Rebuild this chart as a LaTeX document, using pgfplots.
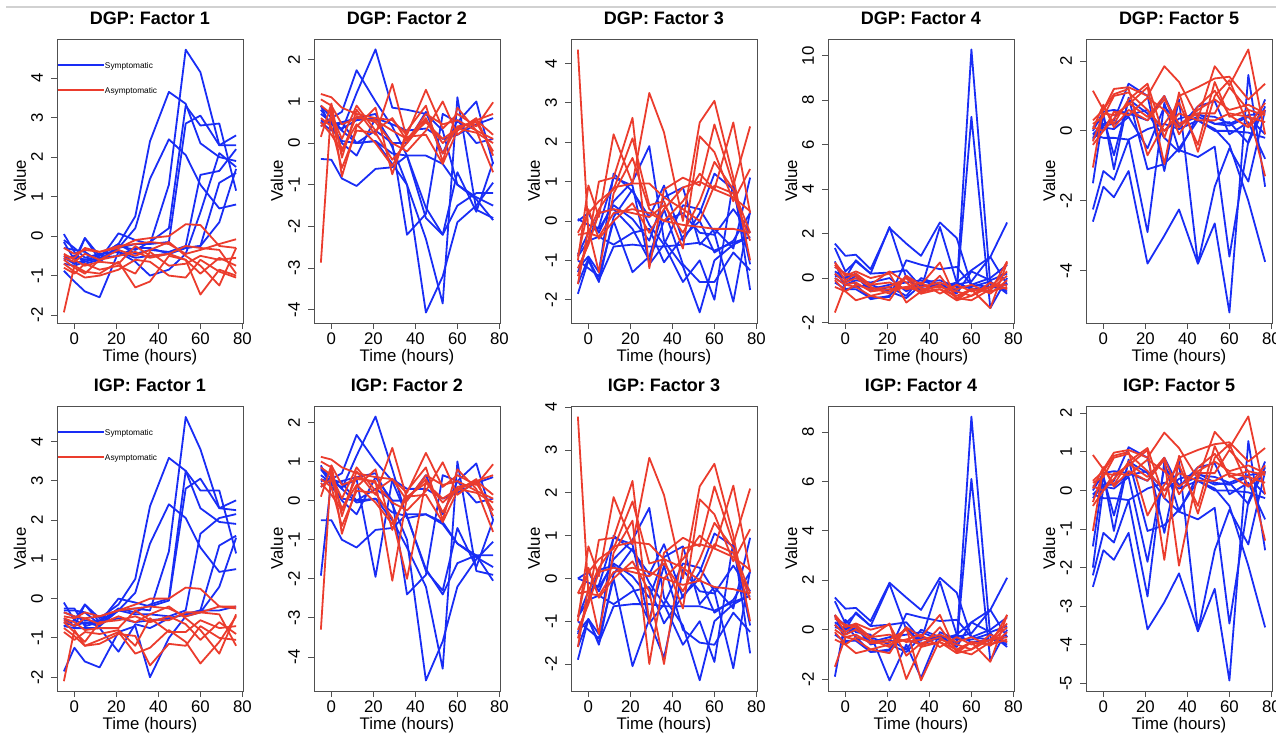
\documentclass[border=0pt]{standalone}
\usepackage{fontspec}
\setmainfont{Liberation Sans}
\usepackage{pgfplots}
\usepackage{pgfplotstable}
\pgfplotsset{compat=1.18}
\definecolor{symp}{RGB}{25,45,245}
\definecolor{asym}{RGB}{235,60,45}
\definecolor{frame}{RGB}{80,80,80}

% each row = one subject; transposed below
\pgfplotstableread{
id c1 c2 c3 c4 c5 c6 c7 c8 c9 c10 c11 c12
t -5 0 5 12 21 29 36 45 53 60 69 77
b1 -0.5 -0.7 -0.6 -0.6 -0.3 -0.2 -0.2 1.3 4.72 4.15 2.3 2.3
b2 -0.15 -0.6 -0.05 -0.5 -0.2 0.5 2.4 3.65 3.35 2.35 2.0 1.9
b3 -0.3 -0.35 -0.4 -0.65 -0.3 0.2 1.45 2.45 2.05 1.3 0.7 0.8
b4 0.05 -0.4 -0.7 -0.6 0.07 -0.1 -0.2 -0.15 2.85 3.05 2.3 2.55
b5 -0.55 -0.7 -0.05 -0.6 -0.25 -0.35 -0.15 0.2 3.3 2.8 2.85 1.15
b6 -0.6 -0.5 -0.6 -0.5 -0.2 -0.45 -0.35 -0.4 -0.25 1.55 1.65 2.2
b7 -0.1 -0.3 -0.55 -0.45 -0.4 -0.55 -0.5 -0.45 -0.3 -0.25 1.35 1.6
b8 -0.88 -1.15 -1.4 -1.55 -0.4 -0.65 -1.0 -0.85 -0.45 0.6 2.1 1.75
b9 -0.7 -0.75 -0.65 -0.55 -0.5 -0.3 -0.3 -0.45 -0.3 -0.25 0.35 1.7
r1 -1.93 -0.75 -0.9 -0.95 -0.65 -1.3 -1.15 -0.5 -0.6 -0.95 -0.55 -0.75
r2 -0.3 -0.45 -0.35 -0.4 -0.3 -0.1 -0.05 0.0 0.3 0.28 -0.25 -0.3
r3 -0.5 -0.55 -0.3 -0.4 -0.25 -0.2 -0.15 -0.2 -0.45 -0.35 -0.2 -0.08
r4 -0.6 -0.8 -0.95 -0.6 -0.5 -0.4 -0.55 -0.45 -0.6 -1.48 -0.85 -1.0
r5 -0.7 -0.9 -1.05 -1.0 -0.85 -0.6 -0.65 -1.0 -1.05 -0.6 -0.9 -1.05
r6 -0.55 -0.65 -0.45 -0.6 -0.35 -0.5 -0.35 -0.15 -0.5 -0.75 -1.25 -0.3
r7 -0.8 -0.95 -0.7 -0.85 -0.75 -0.95 -0.4 -0.75 -0.7 -0.5 -0.6 -0.55
r8 -0.45 -0.6 -0.75 -0.65 -0.7 -0.25 -0.5 -0.45 -0.25 -0.3 -0.35 -0.95
}\rawDA

\pgfplotstableread{
id c1 c2 c3 c4 c5 c6 c7 c8 c9 c10 c11 c12
t -5 0 5 12 21 29 36 45 53 60 69 77
b1 0.5 0.55 0.3 1.2 2.25 0.85 0.8 0.7 0.3 -1.0 -1.3 -1.5
b2 0.9 0.6 0.75 1.75 1.0 0.4 -0.3 -1.55 -2.2 -1.5 -1.2 -1.2
b3 -0.38 -0.4 -0.85 -1.03 -0.62 -0.58 -0.3 -0.3 -0.5 -1.0 -1.35 -1.85
b4 0.8 0.45 0.5 0.6 0.7 -0.1 -1.0 -4.07 -3.2 -1.9 -1.5 -0.95
b5 0.4 0.6 0.3 0.0 0.05 -0.5 -1.0 -2.3 -3.85 1.1 -1.6 -1.8
b6 0.7 0.5 0.0 -0.3 0.6 0.0 -2.2 -1.7 0.7 0.5 1.0 -0.5
b7 0.5 0.3 0.5 0.0 0.05 -0.25 -0.3 -1.8 -2.2 -0.7 -1.65 -0.45
b8 0.9 0.35 0.05 0.0 0.3 0.0 0.0 0.75 -0.25 0.55 0.0 0.1
b9 0.55 0.45 0.35 0.55 0.6 0.45 0.3 0.35 0.1 0.2 0.45 0.6
r1 -2.87 0.9 0.45 0.6 0.55 0.3 0.1 0.5 0.1 0.35 0.55 0.2
r2 1.18 1.1 0.85 0.7 0.6 0.55 0.2 1.28 0.35 0.7 0.4 0.98
r3 1.05 0.9 -0.8 0.4 0.85 -0.75 0.3 0.9 -0.45 0.85 0.3 -0.7
r4 0.15 0.95 -0.35 0.8 0.2 1.42 0.1 0.6 -0.25 0.4 0.5 -0.2
r5 0.6 0.4 -0.6 0.3 0.25 -0.4 0.0 0.55 0.0 0.35 0.25 0.0
r6 0.5 0.2 -0.2 0.65 0.5 0.0 -0.2 0.3 1.0 0.2 0.55 0.7
r7 0.9 0.7 0.1 0.9 0.3 0.6 0.05 0.7 0.45 0.55 0.3 0.1
r8 0.4 0.6 -0.15 0.45 0.0 -0.55 0.15 0.2 -0.5 0.3 0.6 -0.3
}\rawDB

\pgfplotstableread{
id c1 c2 c3 c4 c5 c6 c7 c8 c9 c10 c11 c12
t -5 0 5 12 21 29 36 45 53 60 69 77
b1 0.0 0.2 -0.3 0.5 1.0 1.9 -0.5 -1.15 -2.32 -1.0 -0.6 -0.4
b2 -1.85 -1.0 -1.55 0.1 0.8 -0.1 -0.6 -1.55 -1.0 -2.0 1.0 -1.75
b3 -1.2 -0.9 -1.3 1.2 0.75 0.1 0.9 -0.5 0.2 1.2 0.8 -1.1
b4 -0.85 -0.3 -0.15 1.1 0.9 -1.1 -0.6 0.4 0.3 -0.3 -2.05 0.25
b5 0.05 -0.1 -0.2 0.4 0.05 -0.5 0.6 0.85 -0.6 -0.2 -0.7 1.1
b6 -1.6 -0.95 -1.5 -0.65 -0.6 -0.65 -0.65 -0.6 -0.55 -0.75 -0.55 -0.4
b7 -1.0 -1.2 -1.4 0.0 -1.3 -0.9 0.3 -1.1 -1.55 -1.55 -0.8 -1.25
b8 -1.3 -0.5 0.2 0.3 -0.2 -1.0 0.0 0.2 -0.3 -0.35 0.3 -0.3
b9 -0.9 -0.5 -0.4 -0.6 -0.3 -0.2 -1.05 -0.4 0.0 -0.8 -0.5 0.2
r1 4.35 -0.3 -0.4 0.2 0.3 0.2 0.0 -0.1 -0.15 -0.2 -0.2 -0.3
r2 -1.0 0.9 0.1 2.2 0.95 3.25 2.25 0.0 2.5 3.05 1.1 -1.0
r3 -1.4 -0.5 1.0 1.1 2.62 -1.2 0.8 1.1 0.9 2.45 0.9 2.4
r4 -0.3 0.2 0.5 0.8 2.1 0.4 0.5 -0.7 2.15 1.75 0.5 1.32
r5 -1.6 -0.2 -1.3 0.7 1.6 0.3 0.0 0.5 1.2 0.8 2.5 0.2
r6 -0.35 -0.3 0.3 0.85 0.95 0.95 0.6 0.3 0.0 0.9 0.7 -0.5
r7 -0.9 0.3 -0.45 0.0 0.45 -0.3 0.3 0.85 1.0 0.8 0.6 0.25
r8 -1.2 -0.6 0.2 0.3 0.2 0.1 0.4 -0.3 0.5 1.5 0.8 -0.3
}\rawDC

\pgfplotstableread{
id c1 c2 c3 c4 c5 c6 c7 c8 c9 c10 c11 c12
t -5 0 5 12 21 29 36 45 53 60 69 77
b1 0.3 0.0 0.2 -0.5 -0.3 -0.2 -0.1 -0.4 -0.5 10.28 -0.3 -0.6
b2 0.2 -0.2 0.1 -0.6 -0.4 -0.8 0.0 -0.3 -0.6 7.25 -1.35 0.0
b3 1.55 1.0 1.05 0.4 2.25 1.55 1.0 2.5 1.8 -0.3 -0.4 -0.5
b4 1.35 0.3 0.75 0.2 2.3 0.0 -0.5 2.3 -0.2 0.35 0.95 -0.3
b5 0.75 -0.5 -0.5 -0.9 -0.85 0.8 0.6 0.4 0.5 -0.3 0.0 0.6
b6 0.1 0.0 0.8 0.2 0.25 0.35 -0.4 -0.3 -0.3 -0.15 0.95 2.5
b7 0.0 -0.3 -0.1 -0.2 0.0 -0.6 -0.2 -0.1 -0.4 -0.4 -0.15 -0.7
b8 0.5 0.2 -0.3 -0.95 -0.8 0.1 -0.6 -0.3 -0.7 0.3 -0.1 0.2
b9 -0.2 -0.5 -0.4 -0.3 -0.6 -0.9 -0.3 -0.4 -0.2 -0.5 -0.4 -0.3
r1 -1.55 -0.3 -0.2 -0.6 -0.5 -0.4 -0.6 -0.5 -0.8 -0.5 -0.6 0.75
r2 0.7 0.1 0.3 0.0 0.2 -1.1 -0.6 -0.3 -0.9 -0.5 -1.35 0.7
r3 -0.4 -0.6 -1.0 -0.8 -1.0 0.1 -0.3 0.7 -1.0 -0.8 -0.4 -0.3
r4 0.5 0.2 0.1 -0.3 0.3 -0.2 -0.7 0.1 -0.9 -1.0 -0.5 0.1
r5 0.2 -0.2 0.0 -0.4 -0.7 0.1 -0.5 -0.4 -0.6 -0.8 -0.2 -0.5
r6 0.0 -0.3 -0.4 -0.8 -0.6 -0.4 -0.2 -0.7 -0.3 -0.6 -0.4 0.3
r7 0.6 -0.1 0.2 -0.3 -0.2 -0.5 -0.4 -0.2 -0.5 -0.3 -0.7 -0.1
r8 -0.1 -0.6 -0.3 -0.5 -0.4 0.0 -0.7 -0.5 -1.0 -0.5 -0.6 -0.4
}\rawDD

\pgfplotstableread{
id c1 c2 c3 c4 c5 c6 c7 c8 c9 c10 c11 c12
t -5 0 5 12 21 29 36 45 53 60 69 77
b1 -2.6 -1.6 -1.9 -1.15 -3.8 -3.0 -2.25 -3.8 -2.65 -5.2 1.6 -1.6
b2 -2.25 -1.15 -1.4 -0.25 -2.9 0.8 -0.55 -0.75 -0.45 -3.6 -0.3 0.9
b3 -1.5 0.5 -1.1 0.95 -1.1 -0.95 -0.5 0.3 0.05 -0.4 -2.0 -3.75
b4 -0.1 0.2 0.3 1.35 1.0 -1.15 0.9 -3.8 -1.6 -0.5 -1.45 0.6
b5 0.0 0.55 0.6 0.5 0.3 1.0 0.1 0.7 0.85 -0.1 0.25 -0.8
b6 -0.25 0.1 0.05 0.4 -0.5 0.7 0.2 0.4 0.2 0.25 -0.35 0.7
b7 -0.1 -0.2 -0.2 -0.25 0.05 0.2 0.05 0.3 0.0 0.0 -0.05 -0.2
b8 -0.2 0.15 0.2 0.45 0.6 0.0 0.35 0.5 0.2 0.15 0.4 -0.1
b9 0.1 0.4 -0.7 0.9 0.5 -0.2 -0.6 0.45 0.4 0.2 0.45 0.5
r1 1.15 0.6 1.2 1.25 1.0 1.85 1.4 0.35 1.85 1.3 2.33 -0.1
r2 -1.05 0.7 0.2 0.9 1.35 -0.2 1.0 1.25 1.5 1.55 0.9 1.35
r3 0.3 0.6 1.05 1.2 -0.7 0.2 0.8 -0.4 1.4 0.4 0.6 -1.3
r4 -0.3 0.5 0.45 0.75 1.25 -0.95 1.1 -0.6 1.0 1.45 0.15 0.8
r5 0.05 0.75 0.1 0.6 0.3 0.9 0.2 0.5 0.5 1.25 0.6 0.45
r6 -0.4 0.0 0.55 0.45 0.95 0.6 0.1 0.6 0.9 0.6 0.75 0.5
r7 0.2 0.4 1.0 1.1 0.6 0.0 0.5 0.3 0.3 0.5 0.4 0.25
r8 0.1 0.0 0.35 0.8 0.4 1.0 -0.1 0.7 1.15 0.45 0.1 0.6
}\rawDE

\pgfplotstableread{
id c1 c2 c3 c4 c5 c6 c7 c8 c9 c10 c11 c12
t -5 0 5 12 21 29 36 45 53 60 69 77
b1 -0.6 -0.7 -0.6 -0.7 -0.3 -0.25 -0.3 1.2 4.62 3.8 2.3 2.25
b2 -0.1 -0.55 -0.15 -0.5 -0.15 0.5 2.35 3.58 3.25 2.3 1.95 1.9
b3 -0.3 -0.3 -0.35 -0.65 -0.3 0.15 1.4 2.4 2.05 1.3 0.68 0.75
b4 -0.25 -0.25 -0.7 -0.6 0.0 -0.1 -0.2 -0.05 2.8 3.05 2.3 2.5
b5 -0.5 -0.7 -0.15 -0.6 -0.25 -0.35 -0.15 0.0 3.25 2.75 2.75 1.15
b6 -0.7 -0.55 -0.65 -0.55 -0.3 -0.4 -0.4 -0.45 -0.3 1.65 2.05 2.15
b7 -0.35 -0.45 -0.55 -0.6 -0.5 -0.6 -0.55 -0.5 -0.4 -0.3 1.35 1.6
b8 -1.85 -1.25 -1.6 -1.75 -0.85 -0.7 -2.0 -1.0 -0.45 -0.35 0.3 1.55
b9 -0.7 -0.75 -0.75 -0.75 -1.35 -0.65 -0.75 -0.5 -0.4 -0.3 -0.3 -0.2
r1 -2.1 -0.8 -1.2 -1.05 -0.85 -1.4 -1.25 -0.8 -1.1 -1.65 -1.1 -0.45
r2 -0.35 -0.45 -0.5 -0.45 -0.3 -0.15 0.0 0.0 0.28 0.25 -0.2 -0.25
r3 -0.45 -0.5 -0.35 -0.45 -0.3 -0.25 -0.2 -0.25 -0.45 -0.35 -0.2 -0.2
r4 -0.6 -0.85 -1.1 -0.6 -0.55 -0.45 -0.6 -0.45 -0.65 -1.05 -0.6 -0.9
r5 -0.75 -0.95 -1.2 -1.15 -0.9 -0.95 -1.7 -1.15 -1.2 -0.7 -1.0 -1.05
r6 -0.55 -0.7 -0.5 -0.65 -0.45 -0.6 -0.4 -0.2 -0.5 -0.8 -1.4 -0.4
r7 -0.85 -1.05 -0.85 -0.9 -0.8 -1.2 -0.5 -0.85 -0.85 -0.55 -0.75 -0.7
r8 -0.5 -0.6 -0.8 -0.75 -0.75 -0.3 -0.55 -0.55 -0.35 -0.35 -0.4 -1.2
}\rawIA

\pgfplotstableread{
id c1 c2 c3 c4 c5 c6 c7 c8 c9 c10 c11 c12
t -5 0 5 12 21 29 36 45 53 60 69 77
b1 0.5 0.55 0.3 1.15 2.15 0.8 -0.45 -0.35 -0.55 -1.1 -1.45 -1.7
b2 0.85 0.55 0.7 1.68 1.0 0.5 -0.4 -1.75 -2.4 -1.6 -1.4 -1.4
b3 -0.5 -0.5 -1.0 -1.2 -0.75 -0.7 -0.35 -0.35 -0.6 -1.1 -1.4 -2.05
b4 0.8 0.45 0.5 0.6 0.7 -0.1 -1.0 -4.6 -3.6 -2.2 -1.5 -1.05
b5 0.35 0.6 0.3 -0.05 0.05 -0.5 -1.2 -2.2 -4.3 1.0 -1.8 -1.9
b6 0.65 0.45 0.0 -0.35 0.6 0.0 -2.4 -1.9 0.65 0.5 0.95 -0.5
b7 -1.92 0.55 0.45 0.0 0.05 -0.3 -0.4 -1.8 -2.3 -0.7 -1.7 -0.5
b8 0.9 0.35 0.05 0.0 0.3 0.0 0.0 0.65 -0.35 0.5 -0.05 0.05
b9 0.55 0.45 0.35 0.55 -1.95 0.55 0.3 0.3 0.05 0.2 0.45 0.6
r1 -3.3 0.9 0.4 0.55 0.5 -2.05 0.1 0.45 0.05 0.3 0.5 0.15
r2 1.12 1.05 0.85 0.7 0.6 0.55 0.2 1.22 0.35 0.65 0.4 0.93
r3 1.0 0.85 -0.85 0.35 0.8 -0.75 0.25 0.85 -0.5 0.8 0.3 -0.8
r4 0.1 0.9 -0.4 0.75 0.15 1.35 0.05 0.55 -0.3 0.35 0.45 -0.25
r5 0.55 0.35 -0.65 0.25 0.2 -0.45 -2.0 0.5 -0.05 0.3 0.2 -0.05
r6 0.45 0.15 -0.25 0.6 0.45 -0.05 -0.25 0.25 0.98 0.15 0.5 0.65
r7 0.85 0.65 0.05 0.85 0.25 0.55 0.0 0.65 0.4 0.5 0.25 0.05
r8 0.35 0.55 -0.2 0.4 -0.05 -0.6 0.1 0.15 -0.55 0.25 0.55 -0.4
}\rawIB

\pgfplotstableread{
id c1 c2 c3 c4 c5 c6 c7 c8 c9 c10 c11 c12
t -5 0 5 12 21 29 36 45 53 60 69 77
b1 0.0 0.15 -0.3 0.45 0.9 1.65 -0.45 -1.1 -2.38 -1.0 -0.6 -0.4
b2 -1.9 -0.95 -1.55 0.1 0.7 -0.1 -0.6 -1.55 -1.0 -1.95 0.85 -1.75
b3 -1.25 -0.95 -1.3 1.0 0.65 0.1 0.8 -0.45 0.15 1.05 0.75 -1.1
b4 -0.9 -0.3 -0.15 0.95 0.8 -1.05 -0.6 0.35 0.25 -0.3 -2.1 0.2
b5 0.0 -0.1 -0.2 0.35 0.05 -0.45 0.5 0.75 -0.6 -0.2 -0.7 0.95
b6 -1.6 -0.95 -1.5 -0.65 -0.6 -0.6 -0.65 -0.65 -0.65 -0.75 -0.55 -0.4
b7 -1.0 -1.2 -1.4 0.0 -2.05 -0.95 0.3 -1.2 -1.5 -1.55 -0.8 -1.25
b8 -1.3 -0.5 0.2 0.3 -0.2 -1.0 -1.85 0.2 -0.3 -0.35 0.3 -0.3
b9 -0.9 -0.5 -0.4 -0.6 -0.3 -0.2 -1.05 -0.4 0.0 -0.8 -0.5 0.15
r1 3.78 -0.35 -0.4 0.15 0.25 0.15 0.0 -0.15 -0.05 -0.2 -0.25 -0.35
r2 -1.0 0.75 0.05 1.9 0.8 2.82 1.95 0.0 2.15 2.68 1.0 -1.0
r3 -1.4 -0.5 0.9 0.95 2.28 -1.05 0.6 0.95 0.75 2.15 0.8 2.1
r4 -0.35 0.15 0.45 0.7 1.8 0.35 0.45 -0.7 1.85 1.5 0.4 1.15
r5 -1.6 -0.2 -1.3 0.6 1.35 -2.0 0.0 0.45 1.0 0.7 2.17 0.15
r6 -0.35 -0.3 0.25 0.75 0.85 0.8 0.45 0.25 -0.05 0.8 0.6 -0.5
r7 -0.9 0.25 -0.45 0.0 0.4 -0.3 -2.0 0.7 0.8 0.7 0.5 0.2
r8 -1.2 -0.6 0.15 0.25 0.15 0.05 0.35 -0.3 0.45 1.3 0.7 -0.35
}\rawIC

\pgfplotstableread{
id c1 c2 c3 c4 c5 c6 c7 c8 c9 c10 c11 c12
t -5 0 5 12 21 29 36 45 53 60 69 77
b1 0.3 0.0 0.2 -0.5 -0.3 -0.2 -0.1 -0.4 -0.5 8.62 -0.3 -0.6
b2 0.2 -0.2 0.1 -0.6 -0.4 -0.8 0.0 -0.3 -0.6 6.1 -1.25 0.0
b3 1.3 0.85 0.88 0.35 1.9 1.3 0.8 2.1 1.5 -0.3 -0.4 -0.5
b4 1.15 0.25 0.65 0.15 1.85 0.0 -0.45 1.95 -0.2 0.3 0.8 -0.3
b5 0.6 -0.45 -0.45 -0.9 -0.85 0.65 0.5 0.35 0.4 -0.3 0.0 0.5
b6 0.1 0.0 0.7 0.15 0.2 0.3 -0.4 -0.3 -0.3 -0.15 0.8 2.1
b7 -1.9 0.4 -0.1 -0.2 -2.05 -0.6 -1.95 -0.1 -0.4 -0.4 -0.15 -0.7
b8 0.5 0.2 -0.3 -0.9 -0.8 0.1 -0.6 -0.3 -0.7 0.3 -0.1 0.15
b9 -0.2 -0.5 -0.4 -0.3 -0.6 -0.9 -0.3 -0.4 -0.2 -0.5 -0.4 -0.3
r1 -1.5 -0.3 -0.2 -0.55 -0.5 -0.4 -0.6 -0.5 -0.8 -0.5 -0.6 0.6
r2 0.6 0.1 0.25 0.0 0.2 -1.05 -0.55 -0.3 -0.85 -0.5 -1.3 0.6
r3 -0.4 -0.6 -0.95 -0.8 -0.95 0.1 -0.3 0.6 -0.95 -0.8 -0.4 -0.3
r4 0.45 0.2 0.1 -0.3 0.25 -2.0 -0.7 0.1 -0.85 -1.0 -0.5 0.1
r5 0.2 -0.2 0.0 -0.4 -0.7 0.1 -2.05 -0.4 -0.6 -0.8 -0.2 -0.5
r6 0.0 -0.3 -0.4 -0.8 -0.6 -0.4 -0.2 -0.7 -0.3 -0.6 -0.4 0.25
r7 0.55 -0.1 0.2 -0.3 -0.2 -0.5 -0.4 -0.2 -0.5 -0.3 -0.65 -0.1
r8 -0.1 -0.6 -0.3 -0.5 -0.4 0.0 -0.7 -0.5 -0.95 -0.5 -0.6 -0.4
}\rawID

\pgfplotstableread{
id c1 c2 c3 c4 c5 c6 c7 c8 c9 c10 c11 c12
t -5 0 5 12 21 29 36 45 53 60 69 77
b1 -2.5 -1.55 -1.8 -1.1 -3.6 -2.9 -2.15 -3.65 -2.55 -4.93 1.28 -1.55
b2 -2.2 -1.1 -1.35 -0.25 -2.75 0.75 -0.55 -0.75 -0.45 -3.45 -0.3 0.75
b3 -1.45 0.4 -1.05 0.8 -1.05 -0.9 -0.5 0.25 0.05 -0.4 -1.95 -3.55
b4 -0.1 0.15 0.25 1.12 0.85 -1.1 0.75 -3.65 -1.55 -0.5 -1.4 0.5
b5 0.0 0.45 0.5 0.45 0.25 0.85 0.1 0.6 0.7 -0.1 0.2 -0.75
b6 -2.0 0.1 0.05 0.35 -1.85 0.6 0.15 0.35 0.15 0.2 -0.35 0.6
b7 -0.1 -0.2 -0.2 -0.25 0.05 0.2 0.05 0.25 0.0 0.0 -0.05 -0.2
b8 -0.2 0.15 0.15 0.4 0.5 0.0 0.3 0.45 0.2 0.15 0.35 -0.1
b9 0.1 0.35 -0.65 0.75 0.45 -0.2 -0.55 0.4 0.35 0.2 0.4 0.45
r1 0.92 0.55 0.98 1.05 0.85 1.5 1.1 0.3 1.52 1.1 1.92 -0.1
r2 -1.05 0.6 0.15 0.75 1.1 -0.2 0.85 1.05 1.2 1.25 0.75 1.1
r3 0.25 0.5 0.9 1.0 -0.65 0.15 0.65 -0.4 1.15 0.35 0.5 -1.3
r4 -0.3 0.45 0.4 0.65 1.05 -1.8 0.9 -0.6 0.85 1.2 0.1 0.65
r5 0.05 0.6 0.1 0.5 0.25 0.8 -1.95 0.45 0.45 1.05 0.5 0.4
r6 -0.4 0.0 0.45 0.4 0.8 0.5 0.1 0.5 0.75 0.5 0.65 0.45
r7 0.2 0.35 0.85 0.95 0.5 0.0 0.45 0.25 0.25 0.45 0.35 0.2
r8 0.1 0.0 0.3 0.7 0.35 0.85 -0.1 0.6 0.95 0.4 0.1 0.5
}\rawIE

\pgfplotstabletranspose[colnames from=id]{\DA}{\rawDA}
\pgfplotstabletranspose[colnames from=id]{\DB}{\rawDB}
\pgfplotstabletranspose[colnames from=id]{\DC}{\rawDC}
\pgfplotstabletranspose[colnames from=id]{\DD}{\rawDD}
\pgfplotstabletranspose[colnames from=id]{\DE}{\rawDE}
\pgfplotstabletranspose[colnames from=id]{\IA}{\rawIA}
\pgfplotstabletranspose[colnames from=id]{\IB}{\rawIB}
\pgfplotstabletranspose[colnames from=id]{\IC}{\rawIC}
\pgfplotstabletranspose[colnames from=id]{\ID}{\rawID}
\pgfplotstabletranspose[colnames from=id]{\IE}{\rawIE}

\pgfplotsset{
  panel/.style={
    scale only axis, width=186pt, height=284pt,
    xmin=-8.28, xmax=80.28,
    xtick={0,20,40,60,80}, xticklabels={0,20,40,60,80},
    tick align=outside, xtick pos=bottom, ytick pos=left,
    major tick length=6pt,
    axis line style={draw=frame, line width=0.9pt},
    every tick/.style={draw=frame, line width=0.9pt},
    tick label style={font=\fontsize{16.8}{18}\selectfont},
    xticklabel style={anchor=center, yshift=-10pt},
    yticklabel style={xshift=-14pt, rotate=90, anchor=center},
    label style={font=\fontsize{16.8}{18}\selectfont},
    xlabel={Time (hours)}, ylabel={Value},
    xlabel style={at={(axis description cs:0.5,0)}, anchor=center, yshift=-34pt},
    ylabel style={at={(axis description cs:-0.199,0.5)}, anchor=center},
    title style={font=\bfseries\fontsize{18}{20}\selectfont, at={(axis description cs:0.5,1)}, anchor=center, yshift=15pt},
    every axis plot/.append style={line width=1.8pt, line join=round},
    legend image code/.code={\draw[##1, line width=1.8pt] (0pt,0pt) -- (24pt,0pt); \path (0pt,0pt) -- (46pt,0pt);},
    legend style={at={(rel axis cs:0,1)}, anchor=north west, draw=none, fill=none,
      inner sep=0pt, row sep=19pt, yshift=-23pt,
      font=\fontsize{8.3}{9}\selectfont,
      nodes={inner sep=0pt, text depth=0pt, text height=6pt}},
    legend cell align=left,
  },
}

\newcommand\drawlines[1]{%
  \pgfplotsinvokeforeach{b1,b2,b3,b4,b5,b6,b7,b8,b9}{\addplot[symp, forget plot] table[x=t,y=##1]{#1};}%
  \pgfplotsinvokeforeach{r1,r2,r3,r4,r5,r6,r7,r8}{\addplot[asym, forget plot] table[x=t,y=##1]{#1};}%
}

\begin{document}
\begin{tikzpicture}
\useasboundingbox (0pt,0pt) rectangle (1276pt,733pt);
\draw[line width=1.5pt, black!18] (6pt,726pt) -- (1276pt,726pt);

% ---------- row 1: DGP ----------
\begin{axis}[panel, at={(57pt,410pt)}, anchor=south west, title={DGP: Factor 1},
  ymin=-2.2, ymax=4.99, ytick={-2,-1,0,1,2,3,4}, yticklabels={-2,-1,0,1,2,3,4}]
\addlegendimage{symp}\addlegendentry{Symptomatic}
\addlegendimage{asym}\addlegendentry{Asymptomatic}
\drawlines{\DA}
\end{axis}
\begin{axis}[panel, at={(314pt,410pt)}, anchor=south west, title={DGP: Factor 2},
  ymin=-4.32, ymax=2.5, ytick={-4,-3,-2,-1,0,1,2}, yticklabels={-4,-3,-2,-1,0,1,2}]
\drawlines{\DB}
\end{axis}
\begin{axis}[panel, at={(571pt,410pt)}, anchor=south west, title={DGP: Factor 3},
  ymin=-2.59, ymax=4.62, ytick={-2,-1,0,1,2,3,4}, yticklabels={-2,-1,0,1,2,3,4}]
\drawlines{\DC}
\end{axis}
\begin{axis}[panel, at={(828pt,410pt)}, anchor=south west, title={DGP: Factor 4},
  ymin=-2.02, ymax=10.75, ytick={-2,0,2,4,6,8,10}, yticklabels={-2,0,2,4,6,8,10}]
\drawlines{\DD}
\end{axis}
\begin{axis}[panel, at={(1086pt,410pt)}, anchor=south west, title={DGP: Factor 5},
  ymin=-5.5, ymax=2.63, ytick={-4,-2,0,2}, yticklabels={-4,-2,0,2}]
\drawlines{\DE}
\end{axis}

% ---------- row 2: IGP ----------
\begin{axis}[panel, height=285pt, at={(57pt,42pt)}, anchor=south west, title={IGP: Factor 1},
  ymin=-2.35, ymax=4.9, ytick={-2,-1,0,1,2,3,4}, yticklabels={-2,-1,0,1,2,3,4}]
\addlegendimage{symp}\addlegendentry{Symptomatic}
\addlegendimage{asym}\addlegendentry{Asymptomatic}
\drawlines{\IA}
\end{axis}
\begin{axis}[panel, height=285pt, at={(314pt,42pt)}, anchor=south west, title={IGP: Factor 2},
  ymin=-4.87, ymax=2.42, ytick={-4,-3,-2,-1,0,1,2}, yticklabels={-4,-3,-2,-1,0,1,2}]
\drawlines{\IB}
\end{axis}
\begin{axis}[panel, height=285pt, at={(571pt,42pt)}, anchor=south west, title={IGP: Factor 3},
  ymin=-2.63, ymax=4.03, ytick={-2,-1,0,1,2,3,4}, yticklabels={-2,-1,0,1,2,3,4}]
\drawlines{\IC}
\end{axis}
\begin{axis}[panel, height=285pt, at={(828pt,42pt)}, anchor=south west, title={IGP: Factor 4},
  ymin=-2.48, ymax=9.05, ytick={-2,0,2,4,6,8}, yticklabels={-2,0,2,4,6,8}]
\drawlines{\ID}
\end{axis}
\begin{axis}[panel, height=285pt, at={(1086pt,42pt)}, anchor=south west, title={IGP: Factor 5},
  ymin=-5.2, ymax=2.19, ytick={-5,-4,-3,-2,-1,0,1,2}, yticklabels={-5,-4,-3,-2,-1,0,1,2}]
\drawlines{\IE}
\end{axis}
\end{tikzpicture}
\end{document}
